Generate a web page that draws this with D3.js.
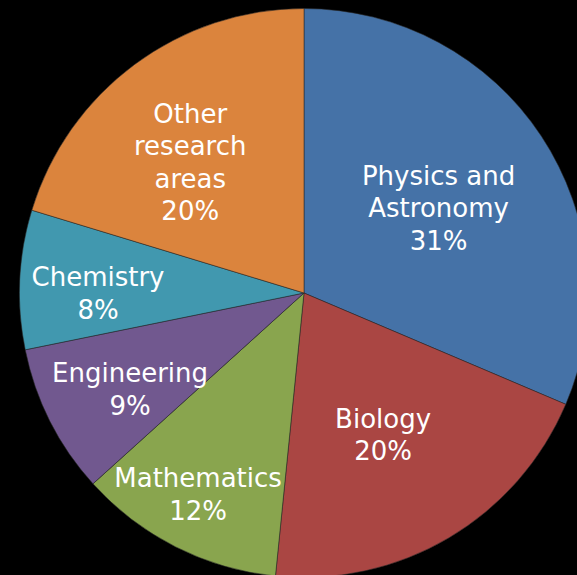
<!DOCTYPE html>
<html>
<head>
<meta charset="utf-8">
<script src="https://cdn.jsdelivr.net/npm/d3@7"></script>
<style>
  html, body { margin: 0; padding: 0; background: #000; }
  svg { display: block; }
</style>
</head>
<body>
<svg id="chart" width="577" height="575"></svg>
<script>
const categories = ["Physics and Astronomy", "Biology", "Mathematics", "Engineering", "Chemistry", "Other research areas"];
// underlying shares; labels show rounded percentages
const values = [31.4, 20.2, 11.7, 8.5, 7.9, 20.3];
const percentLabels = ["31%", "20%", "12%", "9%", "8%", "20%"];
const nameLines = [["Physics and", "Astronomy"], ["Biology"], ["Mathematics"], ["Engineering"], ["Chemistry"], ["Other", "research", "areas"]];
const colors = ["#4572A7", "#AA4643", "#89A54E", "#71588F", "#4198AF", "#DB843D"];

// label placement (radius px, angle deg clockwise from top) — layout only
const labelPlacement = [[159.4, 57.6], [162.1, 150.8], [227.2, 207.8], [198.7, 241.1], [206, 270], [173.4, 319]];

const W = 577, H = 575, cx = 304, cy = 293, R = 284.5;
const svg = d3.select("#chart");
svg.append("rect").attr("width", W).attr("height", H).attr("fill", "#000");

const data = categories.map((c, i) => ({ name: c, value: values[i], i }));
const pie = d3.pie().value(d => d.value).sort(null);
const arc = d3.arc().innerRadius(0).outerRadius(R);
const g = svg.append("g").attr("transform", `translate(${cx},${cy})`);

g.selectAll("path").data(pie(data)).join("path")
  .attr("d", arc)
  .attr("fill", d => colors[d.data.i])
  .attr("stroke", "rgba(40,40,40,0.55)")
  .attr("stroke-width", 1);

const lineH = 32.5;
g.selectAll("text.lbl").data(pie(data)).join("text")
  .attr("class", "lbl")
  .attr("font-family", "'DejaVu Sans', Verdana, sans-serif")
  .attr("font-size", 26)
  .attr("fill", "#fff")
  .attr("text-anchor", "middle")
  .each(function(d) {
    const [r, a] = labelPlacement[d.data.i];
    const ang = a * Math.PI / 180;
    const x = r * Math.sin(ang), y = -r * Math.cos(ang);
    const lines = nameLines[d.data.i].concat([percentLabels[d.data.i]]);
    const t = d3.select(this);
    lines.forEach((l, k) => {
      t.append("tspan")
        .attr("x", x)
        .attr("y", y + (k - (lines.length - 1) / 2) * lineH + 9.5)
        .text(l);
    });
  });
</script>
</body>
</html>
